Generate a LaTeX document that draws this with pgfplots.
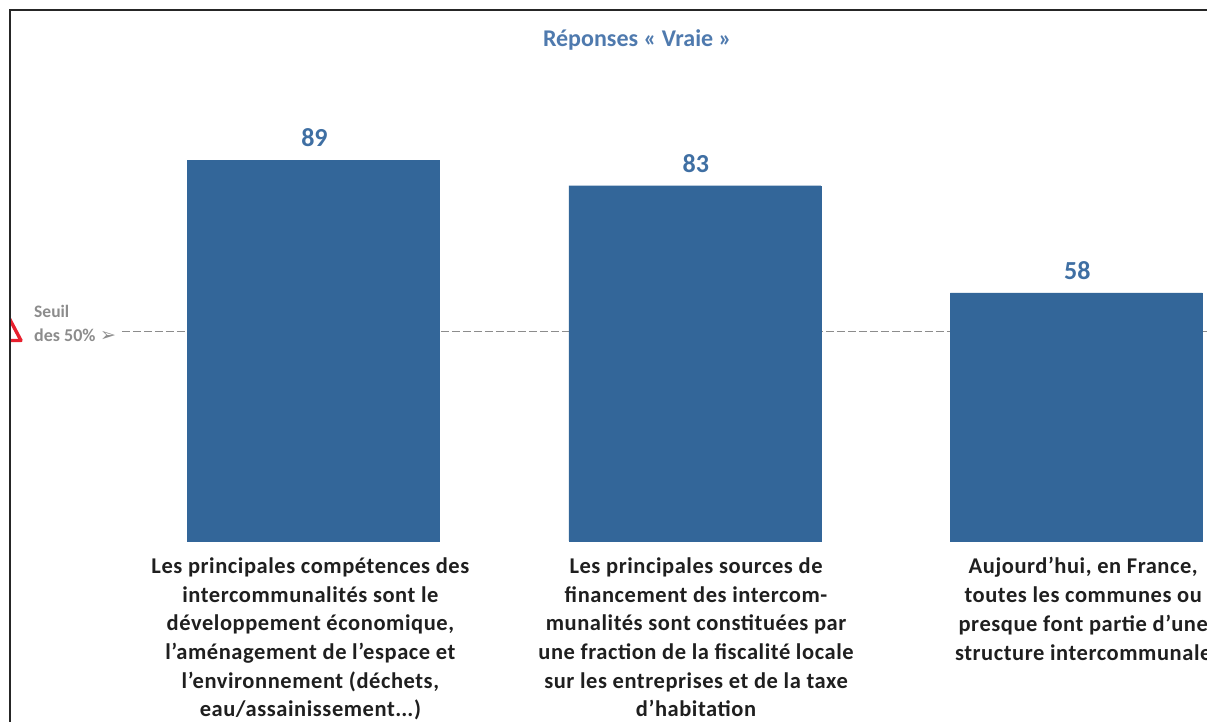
\documentclass[border=0pt]{standalone}
\usepackage{pgfplots}
\pgfplotsset{compat=1.18}
\usepackage{fontspec}
\setmainfont{Carlito}
\newfontfamily\lab[LetterSpace=2.5]{Carlito}
\newfontfamily\symb{DejaVu Sans}
\definecolor{barblue}{HTML}{336699}
\definecolor{valblue}{HTML}{3F6FA3}
\definecolor{titleblue}{HTML}{4F7AAE}
\definecolor{seuil}{HTML}{8C8C8C}
\definecolor{tri}{HTML}{E8202E}
\newcommand{\tdots}{.\kern0pt.\kern0pt.}
\pgfplotstableread{
x y
0 89
1 83
2 58
}\data
\begin{document}
\begin{tikzpicture}[x=1pt,y=1pt]
\useasboundingbox (0,0) rectangle (1207,722);
\clip (0,0) rectangle (1207,722);
\begin{axis}[
  at={(0pt,181pt)},anchor=south west,
  scale only axis,width=1207pt,height=541pt,
  xmin=-0.8217,xmax=2.3425,ymin=0,ymax=126.4,
  ybar,bar width=252pt,
  axis line style={draw=none},
  tick style={draw=none},
  major tick length=0pt,
  ymajorticks=false,
  xtick={-0.008,1.003,2.018},
  xticklabels={
   {Les principales compétences des\\intercommunalités sont le\\développement économique,\\l’aménagement de l’espace et\\l’environnement (déchets,\\eau/assainissement\tdots)},
   {Les principales sources de\\financement des intercom-\\munalités sont constituées par\\une fraction de la fiscalité locale\\sur les entreprises et de la taxe\\d’habitation},
   {Aujourd’hui, en France,\\toutes les communes ou\\presque font partie d’une\\structure intercommunale}},
  xticklabel style={align=center,anchor=north,yshift=-13pt,text=black!88,
    font=\fontsize{22.5}{28.7}\selectfont\lab\bfseries},
  nodes near coords,
  /pgf/number format/assume math mode=true,
  nodes near coords style={text=valblue,font=\fontsize{26}{30}\selectfont\bfseries,yshift=10pt,xshift=1pt},
  title={Réponses « Vraie »},
  title style={at={(0.528,0.9155)},anchor=center,text=titleblue,
    font=\fontsize{24}{28}\selectfont\bfseries},
  clip=false,
]
\addplot[sharp plot,forget plot,nodes near coords={},seuil,line width=1.6pt,dash pattern=on 8pt off 3pt,bar shift=0pt,mark=none]
  coordinates {(-0.502,48.9) (2.3425,48.9)};
\addplot[fill=barblue,draw=barblue] table[x=x,y=y]{\data};
\end{axis}
\begin{scope}
\clip (10,0) rectangle (40,722);
\draw[tri,line width=3.4pt,line join=round] (8,722-316) -- (21,722-340.5) -- (8,722-340.5);
\end{scope}
\node[anchor=base west,text=seuil,font=\fontsize{17.5}{20}\selectfont\bfseries,inner sep=0pt] at (34,722-318) {Seuil};
\node[anchor=base west,text=seuil,font=\fontsize{18}{20}\selectfont\bfseries,inner sep=0pt] at (34,722-342) {des 50\%};
\node[anchor=base west,text=seuil,font=\fontsize{19}{20}\selectfont\symb,inner sep=0pt] at (100,722-342) {➢};
\draw[black!85,line width=2pt] (9.5,0) -- (9.5,722-10.5) -- (1207,722-10.5);
\end{tikzpicture}
\end{document}
